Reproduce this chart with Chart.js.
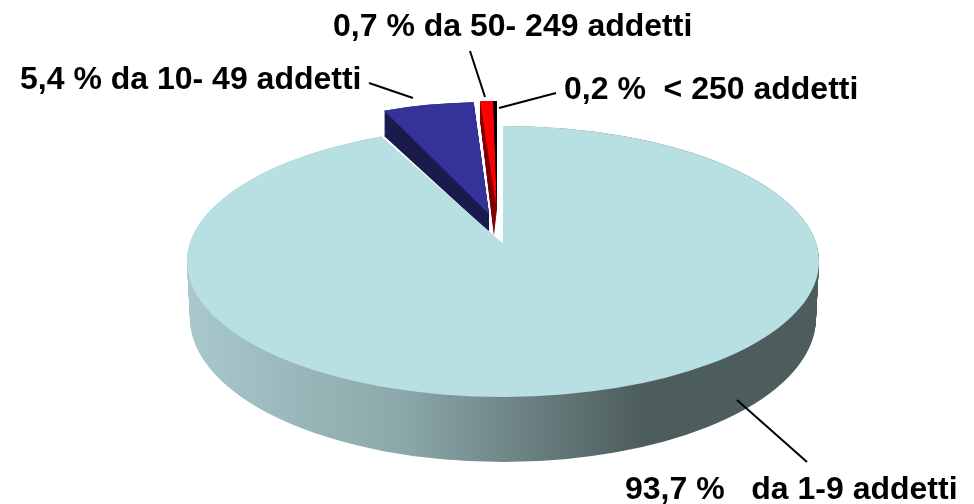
<!DOCTYPE html>
<html lang="it">
<head>
    <meta charset="UTF-8">
    <title>Imprese per addetti</title>
    <script src="https://cdn.jsdelivr.net/npm/chart.js"></script>
    <style>
        body { margin: 0; background: #fff; }
        canvas { display: block; }
    </style>
</head>
<body>
    <canvas id="pieChart" width="974" height="504"></canvas>

    <script>
        // Dati
        const categories = ["da 1-9 addetti", "da 10- 49 addetti", "da 50- 249 addetti", "< 250 addetti"];
        const values = [93.7, 5.4, 0.7, 0.2];
        const labelTexts = ["93,7 %   da 1-9 addetti", "5,4 % da 10- 49 addetti", "0,7 % da 50- 249 addetti", "0,2 %  < 250 addetti"];

        const topColors = ["#b8dfe2", "#333399", "#ff0000", "#000000"];
        const sideColors = ["#4d5c5c", "#1a1a4d", "#800000", "#000000"];

        // Ogni fetta e' un'ellisse: faccia superiore e base (la pila di strati fa il 3D)
        const sliceTop = [
            { cx: 503, cy: 261.5, rx: 316, ry: 135.5 },
            { cx: 489, cy: 214, rx: 272, ry: 112 },
            { cx: 497, cy: 210, rx: 300, ry: 109 },
            { cx: 497, cy: 210, rx: 300, ry: 109 }
        ];
        const sliceBottom = [
            { cx: 503, cy: 318, rx: 313, ry: 144 },
            { cx: 489, cy: 232, rx: 272, ry: 104 },
            { cx: 494, cy: 236, rx: 240, ry: 113 },
            { cx: 497, cy: 212, rx: 300, ry: 111 }
        ];
        const apexLift = 18; // la punta della fetta grande sta sopra il centro dell'ellisse

        const labelPlaces = [[625, 499], [20, 89], [333, 36], [564, 99]];
        const leaders = [
            [[737, 400], [807, 462]],
            [[369, 83], [413, 98]],
            [[470, 51], [485, 97]],
            [[499, 108], [556, 93]]
        ];

        function withEllipse(ctx, arc, e, fn) {
            const R = arc.outerRadius;
            ctx.save();
            ctx.translate(e.cx, e.cy);
            ctx.scale(e.rx / R, e.ry / R);
            ctx.translate(-arc.x, -arc.y);
            fn();
            ctx.restore();
        }

        function drawTop(ctx, arc, i) {
            withEllipse(ctx, arc, sliceTop[i], () => arc.draw(ctx));
        }

        function drawSide(ctx, arc, i, fill) {
            const a = sliceTop[i], b = sliceBottom[i];
            // abbastanza strati da non lasciare righe, sia al bordo alto che al basso
            const steps = Math.ceil(Math.max(
                Math.abs((b.cy + b.ry) - (a.cy + a.ry)),
                Math.abs((b.cy - b.ry) - (a.cy - a.ry)),
                Math.abs(b.cy - a.cy)
            )) + 2;
            const saved = arc.options;
            for (let s = steps; s >= 0; s--) {
                const t = s / steps;
                const e = {
                    cx: a.cx + (b.cx - a.cx) * t,
                    cy: a.cy + (b.cy - a.cy) * t,
                    rx: a.rx + (b.rx - a.rx) * t,
                    ry: a.ry + (b.ry - a.ry) * t
                };
                arc.options = Object.assign({}, saved, { backgroundColor: fill ? fill(arc, e) : sideColors[i] });
                withEllipse(ctx, arc, e, () => arc.draw(ctx));
            }
            arc.options = saved;
        }

        // sfumatura orizzontale del bordo della fetta grande (in coordinate schermo)
        function bigSideFill(ctx) {
            return function (arc, e) {
                const k = arc.outerRadius / e.rx;
                const g = ctx.createLinearGradient(arc.x + (190 - e.cx) * k, 0, arc.x + (820 - e.cx) * k, 0);
                g.addColorStop(0, "#a8c8cb");
                g.addColorStop(0.35, "#8aa6a8");
                g.addColorStop(0.72, "#4d5c5c");
                g.addColorStop(1, "#4d5c5c");
                return g;
            };
        }

        // chiude il triangolino tra il centro dell'ellisse e la punta reale
        function fillApex(ctx, arc) {
            const e = sliceTop[0];
            ctx.save();
            ctx.fillStyle = topColors[0];
            ctx.beginPath();
            ctx.moveTo(e.cx + Math.cos(arc.endAngle) * e.rx, e.cy + Math.sin(arc.endAngle) * e.ry);
            ctx.lineTo(e.cx, e.cy - apexLift);
            ctx.lineTo(e.cx, e.cy + 6);
            ctx.closePath();
            ctx.fill();
            ctx.restore();
        }

        const pie3d = {
            id: "pie3d",
            beforeDatasetsDraw(chart) {
                const ctx = chart.ctx;
                const arcs = chart.getDatasetMeta(0).data;
                drawSide(ctx, arcs[0], 0, bigSideFill(ctx));
                drawSide(ctx, arcs[1], 1);
                drawTop(ctx, arcs[0], 0);
                fillApex(ctx, arcs[0]);
                drawTop(ctx, arcs[1], 1);
                drawSide(ctx, arcs[2], 2);
                drawSide(ctx, arcs[3], 3);
                drawTop(ctx, arcs[2], 2);
                drawTop(ctx, arcs[3], 3);
                return false;
            },
            afterDraw(chart) {
                const ctx = chart.ctx;
                ctx.save();
                ctx.strokeStyle = "#000";
                ctx.lineWidth = 2;
                leaders.forEach(l => {
                    ctx.beginPath();
                    ctx.moveTo(l[0][0], l[0][1]);
                    ctx.lineTo(l[1][0], l[1][1]);
                    ctx.stroke();
                });
                ctx.fillStyle = "#000";
                ctx.font = "bold 32px 'Liberation Sans', Arial, sans-serif";
                labelTexts.forEach((txt, i) => ctx.fillText(txt, labelPlaces[i][0], labelPlaces[i][1]));
                ctx.restore();
            }
        };

        new Chart(document.getElementById("pieChart"), {
            type: "pie",
            data: {
                labels: categories,
                datasets: [{
                    data: values,
                    backgroundColor: topColors,
                    borderWidth: 0
                }]
            },
            options: {
                responsive: false,
                animation: false,
                plugins: { legend: { display: false }, tooltip: { enabled: false } }
            },
            plugins: [pie3d]
        });
    </script>
</body>
</html>
